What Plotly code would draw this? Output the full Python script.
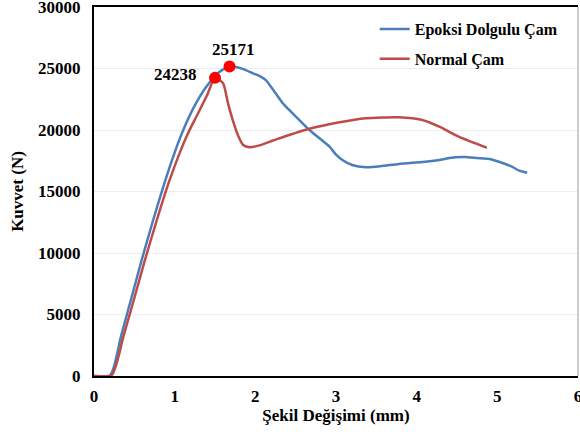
import plotly.graph_objects as go

# Epoksi Dolgulu Çam (blue)
epoksi_x = [0, 0.18, 0.21, 0.25, 0.29, 0.33, 0.45, 0.59, 0.73, 0.85, 0.98, 1.1, 1.25, 1.39, 1.55, 1.68,
            1.85, 1.97, 2.05, 2.13, 2.25, 2.34, 2.42, 2.67, 2.92, 3.0, 3.08, 3.2, 3.37, 3.55, 3.78,
            4.19, 4.48, 4.6, 4.75, 4.9, 5.02, 5.18, 5.27, 5.37]
epoksi_y = [0, 0, 150, 800, 1900, 3100, 6000, 9400, 12600, 15200, 17800, 19900, 22000, 23500, 24700, 25171,
            24950, 24610, 24400, 24060, 23000, 22170, 21630, 20000, 18640, 18000, 17560, 17150, 16970, 17050, 17240,
            17480, 17780, 17800, 17720, 17650, 17420, 17020, 16690, 16530]

# Normal Çam (red)
normal_x = [0, 0.2, 0.23, 0.27, 0.32, 0.36, 0.49, 0.63, 0.775, 0.92, 1.06, 1.17, 1.27, 1.40, 1.50, 1.60,
            1.66, 1.72, 1.79, 1.85, 1.93, 2.05, 2.18, 2.42, 2.67, 2.9, 3.16, 3.37, 3.78,
            4.07, 4.28, 4.52, 4.87]
normal_y = [0, 0, 150, 800, 2000, 3100, 6100, 9400, 12600, 15600, 18100, 19800, 21100, 22800, 24238, 23800,
            22200, 20810, 19500, 18780, 18600, 18750, 19050, 19590, 20100, 20450, 20760, 20950, 21030,
            20810, 20270, 19460, 18560]

# Peak points
peak_x = [1.68, 1.50]
peak_y = [25171, 24238]
peak_labels = ["25171", "24238"]

x_ticks = [0, 1, 2, 3, 4, 5, 6]
y_ticks = [0, 5000, 10000, 15000, 20000, 25000, 30000]

FONT = "Liberation Serif"
BLUE = "#4a7ebb"
RED = "#be4b48"

fig = go.Figure()
fig.add_trace(go.Scatter(x=epoksi_x, y=epoksi_y, mode="lines", name="Epoksi Dolgulu Çam",
                         legendgroup="a",
                         line=dict(color=BLUE, width=2.5, shape="spline", smoothing=0.6)))
fig.add_trace(go.Scatter(x=normal_x, y=normal_y, mode="lines", name="Normal Çam",
                         legendgroup="b",
                         line=dict(color=RED, width=2.5, shape="spline", smoothing=0.6)))
fig.add_trace(go.Scatter(x=peak_x, y=peak_y, mode="markers", showlegend=False,
                         marker=dict(color="#ff0000", size=12)))

# peak labels
fig.add_annotation(x=peak_x[0], y=peak_y[0], text="<b>" + peak_labels[0] + "</b>", showarrow=False,
                   xshift=4, yshift=17, font=dict(family=FONT, size=17, color="black"))
fig.add_annotation(x=peak_x[1], y=peak_y[1], text="<b>" + peak_labels[1] + "</b>", showarrow=False,
                   xanchor="right", xshift=-16, yshift=3, font=dict(family=FONT, size=17, color="black"))

# right border (gray)
fig.add_shape(type="line", xref="paper", yref="paper", x0=1, x1=1, y0=0, y1=1,
              line=dict(color="#9a9a9a", width=1))

fig.update_layout(
    width=580, height=432,
    margin=dict(l=94, r=2, t=7, b=56, autoexpand=False),
    paper_bgcolor="white", plot_bgcolor="white",
    font=dict(family=FONT, size=17, color="black"),
    showlegend=True,
    legend=dict(x=0.58, y=0.986, xanchor="left", yanchor="top",
                bgcolor="rgba(0,0,0,0)", tracegroupgap=6,
                font=dict(family=FONT, size=16, color="black", weight="bold")),
    xaxis=dict(range=[0, 6], tickvals=x_ticks, ticktext=[f"<b>{t}</b>" for t in x_ticks],
               showgrid=False, zeroline=False, automargin=False, ticklabeloverflow="allow",
               showline=True, linecolor="black", linewidth=2, mirror=True,
               ticks="", ticklabelstandoff=4,
               title=dict(text="<b>Şekil Değişimi (mm)</b>", standoff=2,
                          font=dict(family=FONT, size=17))),
    yaxis=dict(range=[0, 30000], tickvals=y_ticks, ticktext=[f"<b>{t}</b>" for t in y_ticks],
               showgrid=True, gridcolor="#ececec", gridwidth=1, zeroline=False,
               automargin=False, ticklabeloverflow="allow",
               showline=True, linecolor="black", linewidth=2,
               ticks="", ticklabelstandoff=8,
               title=dict(text="<b>Kuvvet (N)</b>", standoff=10,
                          font=dict(family=FONT, size=17))),
)

fig.write_html("out.html", config={"displayModeBar": False},
               post_script="document.body.style.margin='0px';")
